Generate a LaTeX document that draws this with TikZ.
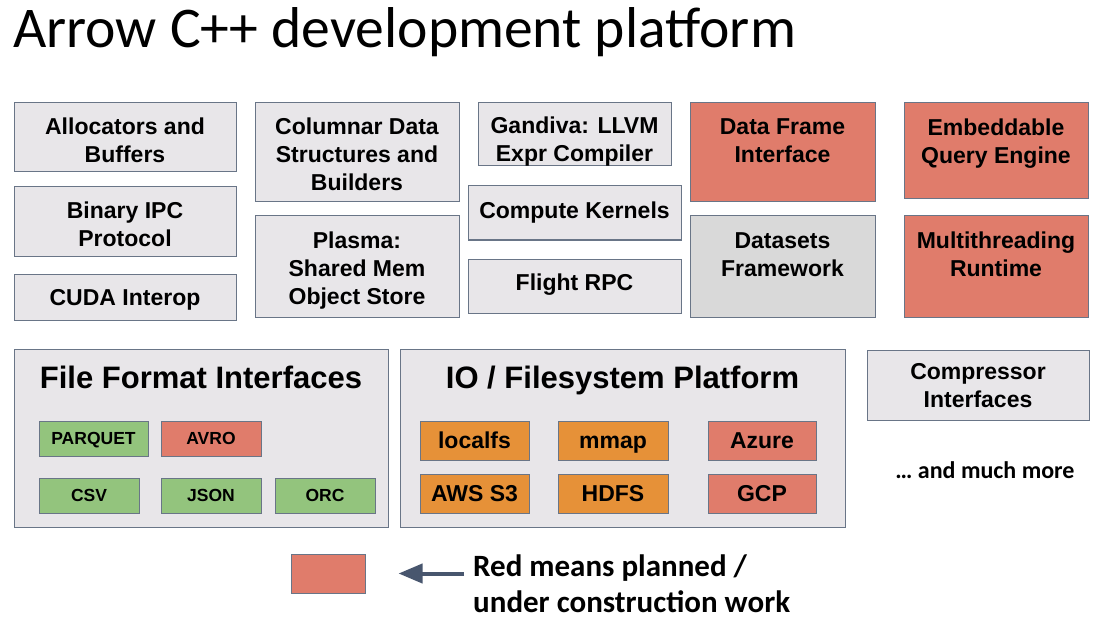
\documentclass[tikz,border=0pt]{standalone}
\usepackage{fontspec}
\setmainfont{Liberation Sans}
\newfontfamily\calibri{Carlito}
\usepackage{xcolor}
\usepackage{tikz}
\usetikzlibrary{arrows.meta}

\definecolor{boxgray}{RGB}{232,230,233}
\definecolor{dsgray}{RGB}{217,217,217}
\definecolor{planred}{RGB}{224,124,107}
\definecolor{fmtgreen}{RGB}{147,196,125}
\definecolor{fsorange}{RGB}{230,145,56}
\definecolor{edge}{RGB}{105,117,135}
\definecolor{arrowcol}{RGB}{72,86,110}

\begin{document}
\begin{tikzpicture}[x=1pt, y=-1pt,
    blk/.style = {draw=edge, fill=boxgray, line width=1pt, align=center, inner sep=0pt, text depth=0pt,
                  font=\bfseries\fontsize{23}{28}\selectfont},
    plan/.style = {blk, fill=planred},
    fmt/.style = {blk, fill=fmtgreen, text height=12.5pt, font=\bfseries\fontsize{17.5}{20}\selectfont},
    fs/.style = {blk, fill=fsorange, text height=16.5pt},
    raised/.style = {text depth=24pt},
    wh/.style 2 args = {minimum width=#1pt, minimum height=#2pt}]
  \useasboundingbox (0,0) rectangle (1099,620);

  \node[anchor=base west, inner sep=0pt, font=\calibri\fontsize{57.6}{62}\selectfont] (title) at (13,48)
    {Arrow C++ development platform};

  % upper blocks
  \node[blk, text height=50pt, wh={222}{69}] (alloc) at (125,137.5) {Allocators and\\Buffers};
  \node[blk, text height=50pt, wh={222}{69}] (ipc) at (125,221.5) {Binary IPC\\Protocol};
  \node[blk, text height=16.5pt, wh={222}{46}] (cuda) at (125,297) {CUDA Interop};
  \node[blk, text height=76.5pt, wh={204}{99}] (columnar) at (357,152.5) {Columnar Data\\Structures and\\Builders};
  \node[blk, text height=75.5pt, wh={204}{101}] (plasma) at (357,266.5) {Plasma:\\Shared Mem\\Object Store};
  \node[blk, text height=54.5pt, wh={193}{63}] (gandiva) at (574.5,134.5) {Gandiva: LLVM\\Expr Compiler};
  \node[blk, text height=16.5pt, text depth=6pt, wh={213}{54}] (kernels) at (574.5,213) {Compute Kernels};
  \node[blk, text height=16.5pt, text depth=8pt, wh={213}{54}] (flight) at (574.5,286) {Flight RPC};
  \node[plan, raised, wh={185}{99}] (dataframe) at (782.5,152.5) {Data Frame\\Interface};
  \node[blk, raised, fill=dsgray, wh={185}{101}] (datasets) at (782.5,266.5) {Datasets\\Framework};
  \node[plan, raised, text depth=20pt, wh={184}{96}] (query) at (996,151) {Embeddable\\Query Engine};
  \node[plan, raised, wh={184}{101}] (threads) at (996,266.5) {Multithreading\\Runtime};

  % file formats
  \node[blk, wh={374}{178}] (fileformat) at (201,438) {};
  \node[anchor=base, inner sep=0pt, font=\bfseries\fontsize{31}{34}\selectfont] (fftitle) at (201,388)
    {File Format Interfaces};
  \node[fmt, wh={109}{35}] (parquet) at (93.5,438.5) {PARQUET};
  \node[fmt, fill=planred, wh={100}{35}] (avro) at (211,438.5) {AVRO};
  \node[fmt, wh={100}{35}] (csv) at (89,495.5) {CSV};
  \node[fmt, wh={100}{35}] (json) at (211,495.5) {JSON};
  \node[fmt, wh={100}{35}] (orc) at (325,495.5) {ORC};

  % filesystems
  \node[blk, wh={445}{178}] (iofs) at (622.5,438) {};
  \node[anchor=base, inner sep=0pt, font=\bfseries\fontsize{31}{34}\selectfont] (iotitle) at (622.5,388)
    {IO / Filesystem Platform};
  \node[fs, wh={109}{39}] (localfs) at (474.5,440.5) {localfs};
  \node[fs, wh={110}{39}] (mmap) at (613,440.5) {mmap};
  \node[fs, fill=planred, wh={108}{39}] (azure) at (762,440.5) {Azure};
  \node[fs, wh={109}{39}] (s3) at (474.5,493.5) {AWS S3};
  \node[fs, wh={110}{39}] (hdfs) at (613,493.5) {HDFS};
  \node[fs, fill=planred, wh={108}{39}] (gcp) at (762,493.5) {GCP};

  \node[blk, wh={222}{70}] (compress) at (978,385) {Compressor\\Interfaces};
  \node[anchor=base, inner sep=0pt, font=\calibri\bfseries\fontsize{24}{28}\selectfont] (more) at (985,478)
    {\dots\ and much more};

  % legend
  \node[plan, wh={74}{39}] (legbox) at (328,573.5) {};
  \node[anchor=west, align=left, inner sep=0pt, font=\calibri\bfseries\fontsize{31}{36}\selectfont] (legtext) at (473,584)
    {Red means planned /\\under construction work};
  \draw[arrowcol, line width=4pt, -{Triangle[length=24pt,width=19pt]}, shorten <=9pt, shorten >=33pt]
    (legtext.west |- legbox.east) -- (legbox.east);
\end{tikzpicture}
\end{document}
